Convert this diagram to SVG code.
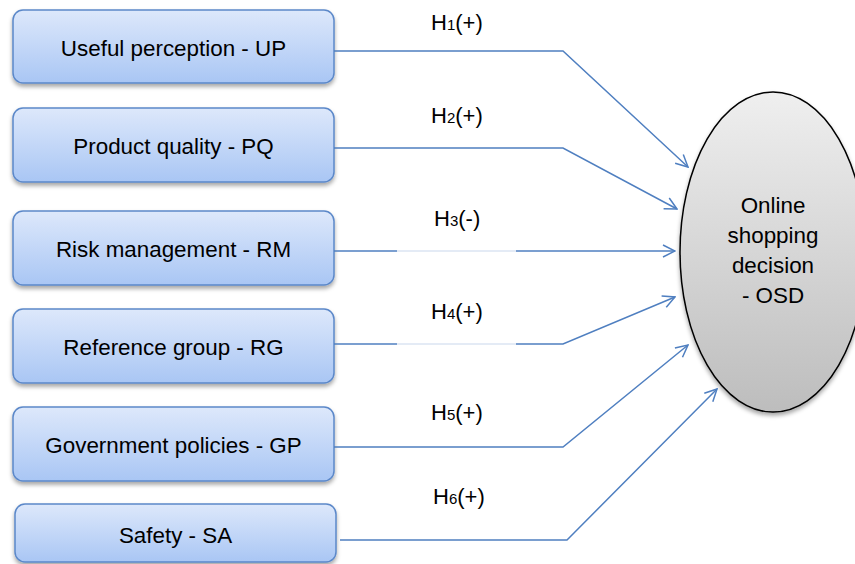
<svg xmlns="http://www.w3.org/2000/svg" width="855" height="564" viewBox="0 0 855 564">
<style>
.box{fill:url(#bg);stroke:#5b88c9;stroke-width:1.5;filter:url(#sh)}
.t{font-family:"Liberation Sans",Arial,sans-serif;font-size:22.4px;fill:#000}
.lbl{font-family:"Liberation Sans",Arial,sans-serif;font-size:22px;fill:#000}
.sub{font-size:15px}
.c{fill:none;stroke:#4f7fc0;stroke-width:1.5}
.g{fill:none;stroke:#c9d7ec;stroke-width:1}
</style>
<defs>
<linearGradient id="bg" x1="0" y1="0" x2="0" y2="1">
<stop offset="0" stop-color="#dde8fb"/>
<stop offset="1" stop-color="#a9c6f4"/>
</linearGradient>
<linearGradient id="eg" x1="0" y1="0" x2="0" y2="1">
<stop offset="0" stop-color="#efefef"/>
<stop offset="1" stop-color="#bdbdbd"/>
</linearGradient>
<filter id="sh" x="-10%" y="-10%" width="120%" height="140%">
<feDropShadow dx="0" dy="3" stdDeviation="2" flood-color="#000" flood-opacity="0.35"/>
</filter>
<marker id="ar" viewBox="0 0 14 14" refX="13" refY="7" markerWidth="14" markerHeight="14" markerUnits="userSpaceOnUse" orient="auto">
<path d="M1,1 L13,7 L1,13" fill="none" stroke="#4f7fc0" stroke-width="1.5"/>
</marker>
</defs>
<g id="node-osd">
<ellipse cx="773" cy="252" rx="93" ry="160" fill="url(#eg)" stroke="#000" stroke-width="1.5" filter="url(#sh)"/>
<text class="t" text-anchor="middle"><tspan x="773" y="213">Online</tspan><tspan x="773" y="243">shopping</tspan><tspan x="773" y="273">decision</tspan><tspan x="773" y="303">- OSD</tspan></text>
</g>
<g id="node-up"><rect class="box" x="13" y="10" width="321" height="73" rx="10"/><text class="t" x="173.5" y="56" text-anchor="middle">Useful perception - UP</text></g>
<g id="node-pq"><rect class="box" x="13" y="108" width="321" height="74" rx="10"/><text class="t" x="173.5" y="154" text-anchor="middle">Product quality - PQ</text></g>
<g id="node-rm"><rect class="box" x="13" y="211" width="321" height="74" rx="10"/><text class="t" x="173.5" y="257" text-anchor="middle">Risk management - RM</text></g>
<g id="node-rg"><rect class="box" x="13" y="309" width="321" height="74" rx="10"/><text class="t" x="173.5" y="355" text-anchor="middle">Reference group - RG</text></g>
<g id="node-gp"><rect class="box" x="13" y="407" width="321" height="74" rx="10"/><text class="t" x="173.5" y="453" text-anchor="middle">Government policies - GP</text></g>
<g id="node-sa"><rect class="box" x="15" y="504" width="321" height="58" rx="10"/><text class="t" x="175.5" y="543" text-anchor="middle">Safety - SA</text></g>
<g id="connectors">
<path class="c" d="M334,51 L563,51 L688,167" marker-end="url(#ar)"/>
<path class="c" d="M334,148 L563,148 L677,209" marker-end="url(#ar)"/>
<path class="c" d="M334,251 L397,251"/>
<path class="g" d="M397,251 L516,251"/>
<path class="c" d="M516,251 L675,251" marker-end="url(#ar)"/>
<path class="c" d="M334,344 L397,344"/>
<path class="g" d="M397,344 L516,344"/>
<path class="c" d="M516,344 L563,344 L675,297" marker-end="url(#ar)"/>
<path class="c" d="M334,447 L563,447 L688,345" marker-end="url(#ar)"/>
<path class="c" d="M340,540 L567,540 L717,389" marker-end="url(#ar)"/>
</g>
<g id="labels">
<text class="lbl" x="431" y="30">H<tspan class="sub">1</tspan>(+)</text>
<text class="lbl" x="431" y="123">H<tspan class="sub">2</tspan>(+)</text>
<text class="lbl" x="434" y="226">H<tspan class="sub">3</tspan>(-)</text>
<text class="lbl" x="431" y="319">H<tspan class="sub">4</tspan>(+)</text>
<text class="lbl" x="431" y="420">H<tspan class="sub">5</tspan>(+)</text>
<text class="lbl" x="433" y="504">H<tspan class="sub">6</tspan>(+)</text>
</g>
</svg>
